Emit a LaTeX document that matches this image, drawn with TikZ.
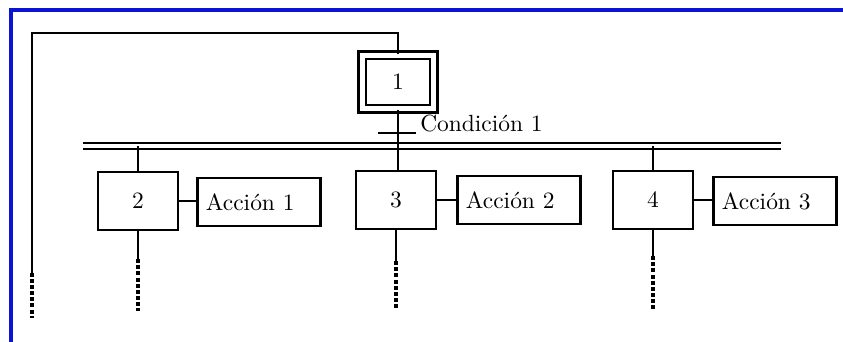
\documentclass[tikz,border=0pt]{standalone}
\usepackage{fontspec}
\usepackage{tikz}
\definecolor{frameblue}{RGB}{10,20,210}

\begin{document}
\begin{tikzpicture}[x=0.15mm,y=-0.15mm,line width=1.1pt,
  stepbox/.style={rectangle,draw,minimum width=12mm,minimum height=8.7mm,inner sep=0pt},
  initbox/.style={rectangle,draw,double,double distance=0.7mm,minimum width=10.7mm,minimum height=8mm,inner sep=0pt},
  actbox/.style={rectangle,draw,minimum height=7.2mm,text width=15.9mm,inner xsep=1.3mm,align=left},
  cont/.style={dash pattern=on 1.7pt off 0.9pt,line width=1.4pt}]
\useasboundingbox (0,0) rectangle (843,342);
\draw[frameblue,line width=1.4pt] (11,342) -- (11,10) -- (843,10);

\node [initbox] (s1) at (398,82) {1};
\node [stepbox] (s2) at (138,201) {2};
\node [stepbox] (s3) at (396,200) {3};
\node [stepbox] (s4) at (653,200) {4};
\node [actbox] (a1) at (259,202) {Acción 1};
\node [actbox] (a2) at (519,200) {Acción 2};
\node [actbox] (a3) at (775,201) {Acción 3};

\coordinate (bl) at (83,146);
\coordinate (br) at (781,146);
\coordinate (t1) at (397,133);
\coordinate (ret) at (32,273);
\node [anchor=west,inner sep=0pt] (c1) at (419,124) {Condición 1};

\draw[double,double distance=0.55mm] (bl) -- (br);
\draw (s1.south) -- (s1.south |- s3.north);
\draw ([xshift=-19*0.15mm]t1) -- ([xshift=19*0.15mm]t1);
\draw (s2.north) -- (s2.north |- bl);
\draw (s4.north) -- (s4.north |- bl);

\draw (s2.east) -- (s2.east -| a1.west);
\draw (s3.east) -- (s3.east -| a2.west);
\draw (s4.east) -- (s4.east -| a3.west);

\draw (s1.north) |- (ret |- 0,33) -- (ret);
\draw[cont] (ret) -- ++(0,45);

\draw (s2.south) -- ++(0,28) coordinate (d2);
\draw (s3.south) -- ++(0,31) coordinate (d3);
\draw (s4.south) -- ++(0,26) coordinate (d4);
\draw[cont] (d2) -- ++(0,52);
\draw[cont] (d3) -- ++(0,47);
\draw[cont] (d4) -- ++(0,53);
\end{tikzpicture}
\end{document}
